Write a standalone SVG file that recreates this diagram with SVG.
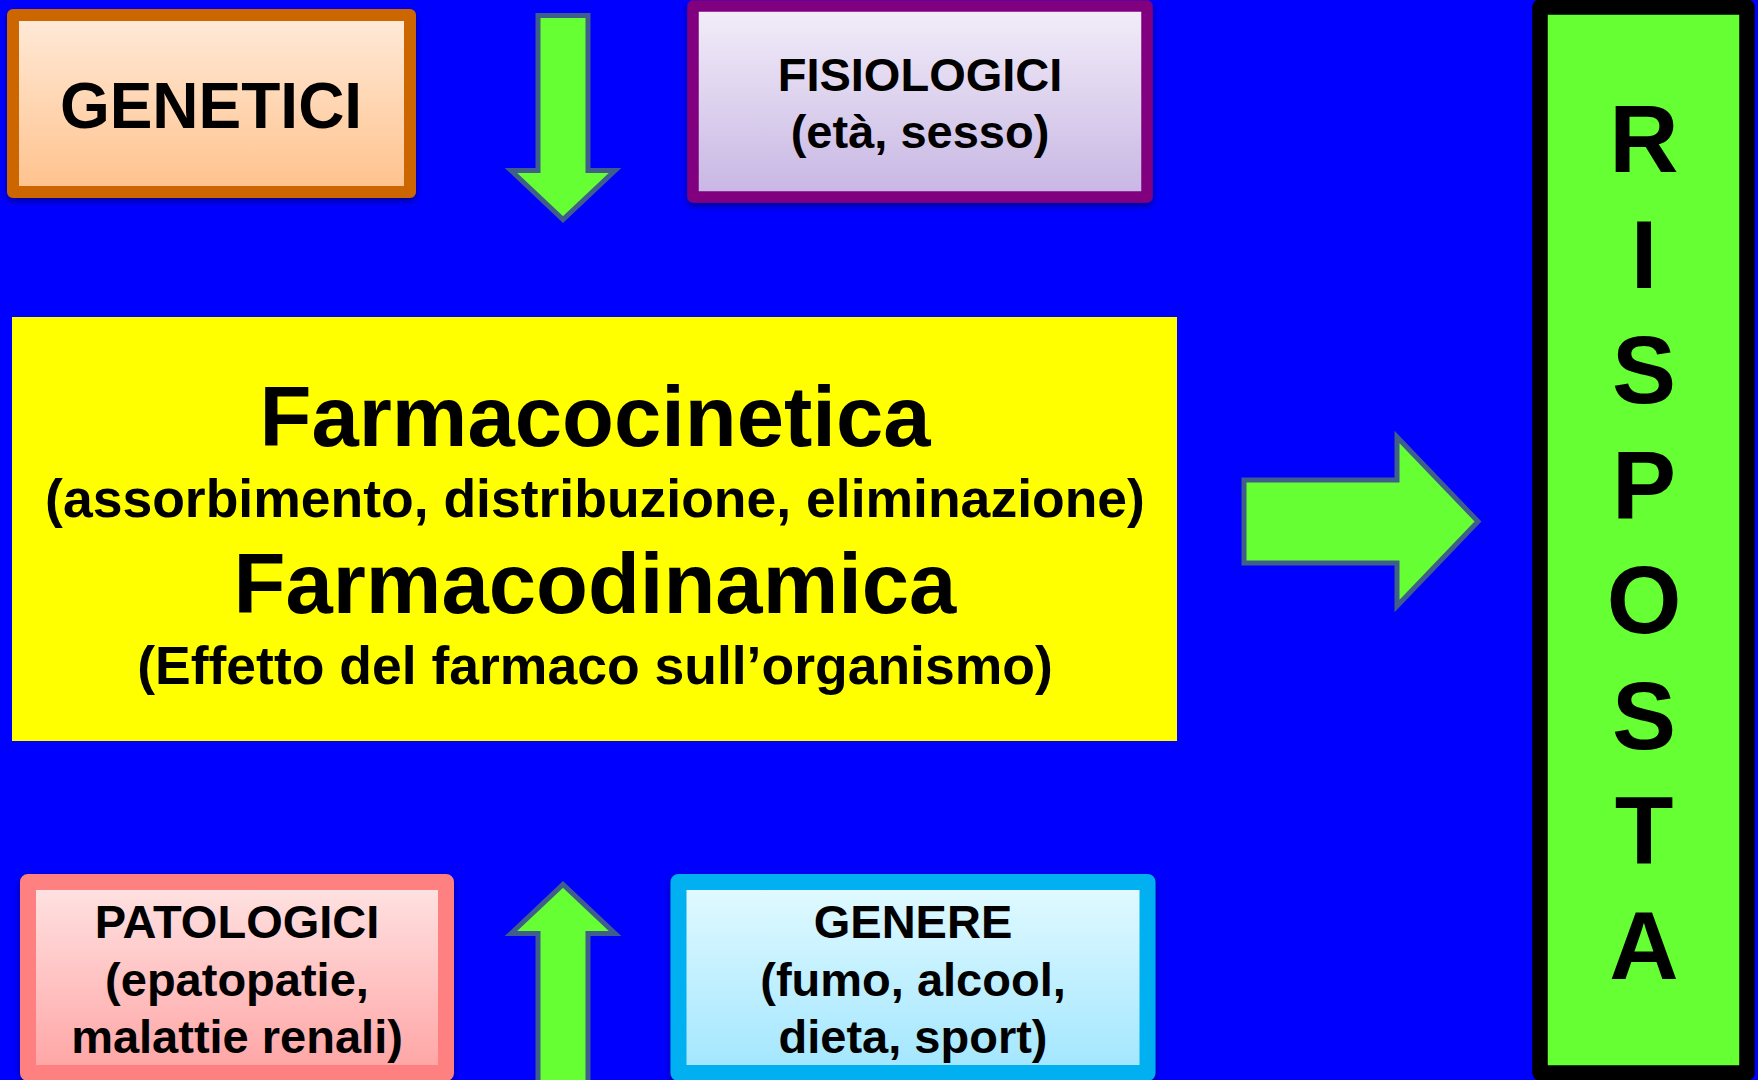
<svg xmlns="http://www.w3.org/2000/svg" width="1758" height="1080" viewBox="0 0 1758 1080">
  <defs>
    <linearGradient id="gOrange" x1="0" y1="0" x2="0" y2="1">
      <stop offset="0" stop-color="#FFEAD9"/>
      <stop offset="1" stop-color="#FFC28C"/>
    </linearGradient>
    <linearGradient id="gPurple" x1="0" y1="0" x2="0" y2="1">
      <stop offset="0" stop-color="#F3EEF9"/>
      <stop offset="1" stop-color="#C7B6E3"/>
    </linearGradient>
    <linearGradient id="gPink" x1="0" y1="0" x2="0" y2="1">
      <stop offset="0" stop-color="#FFE3E3"/>
      <stop offset="1" stop-color="#FFA4A4"/>
    </linearGradient>
    <linearGradient id="gCyan" x1="0" y1="0" x2="0" y2="1">
      <stop offset="0" stop-color="#E2FAFF"/>
      <stop offset="1" stop-color="#A2E6FF"/>
    </linearGradient>
    <filter id="shadow" x="-10%" y="-10%" width="120%" height="130%">
      <feDropShadow dx="0" dy="3" stdDeviation="3" flood-color="#000" flood-opacity="0.45"/>
    </filter>
  </defs>
  <style>
    text { font-family: "Liberation Sans", Arial, sans-serif; font-weight: bold; fill: #000; text-anchor: middle; }
    .box { stroke-linejoin: round; filter: url(#shadow); }
    .arrow { fill: #66FF33; stroke: #3F5F8A; stroke-width: 5; stroke-linejoin: miter; }
    .small { font-size: 47px; }
    .big { font-size: 85px; }
    .mid { font-size: 53.5px; }
    .vert { font-size: 96px; }
  </style>

  <rect x="0" y="0" width="1758" height="1080" fill="#0000FF"/>

  <g id="connectors">
    <polygon class="arrow" points="538,15.5 588,15.5 588,170.5 615,170.5 563,219.5 511,170.5 538,170.5"/>
    <polygon class="arrow" points="538,1090 588,1090 588,933.5 615,933.5 563,884.5 511,933.5 538,933.5"/>
    <polygon class="arrow" points="1244,480 1397,480 1397,437 1478,521.5 1397,606 1397,563 1244,563"/>
  </g>

  <g id="genetici">
    <rect class="box" x="13" y="15" width="397" height="177" fill="url(#gOrange)" stroke="#CC6600" stroke-width="12"/>
    <text x="211" y="128" style="font-size:64px">GENETICI</text>
  </g>

  <g id="fisiologici">
    <rect class="box" x="693" y="6" width="454" height="191" fill="url(#gPurple)" stroke="#800080" stroke-width="11.5"/>
    <text class="small" x="920" y="91">FISIOLOGICI</text>
    <text class="small" x="920" y="148">(età, sesso)</text>
  </g>

  <g id="farmaco">
    <rect x="12" y="317" width="1165" height="424" fill="#FFFF00"/>
    <text class="big" x="595" y="446">Farmacocinetica</text>
    <text class="mid" x="595" y="517">(assorbimento, distribuzione, eliminazione)</text>
    <text class="big" x="595" y="613">Farmacodinamica</text>
    <text class="mid" x="595" y="684">(Effetto del farmaco sull’organismo)</text>
  </g>

  <g id="patologici">
    <rect class="box" x="28" y="882" width="418" height="191" fill="url(#gPink)" stroke="#FF8080" stroke-width="16"/>
    <text class="small" x="237" y="938">PATOLOGICI</text>
    <text class="small" x="237" y="996">(epatopatie,</text>
    <text class="small" x="237" y="1053">malattie renali)</text>
  </g>

  <g id="genere">
    <rect class="box" x="678.5" y="882" width="469" height="191" fill="url(#gCyan)" stroke="#00B0F0" stroke-width="16"/>
    <text class="small" x="913" y="938">GENERE</text>
    <text class="small" x="913" y="996">(fumo, alcool,</text>
    <text class="small" x="913" y="1053">dieta, sport)</text>
  </g>

  <g id="risposta">
    <rect x="1540" y="7" width="207" height="1066" fill="#66FF33" stroke="#000" stroke-width="15.5" stroke-linejoin="round"/>
    <text class="vert" x="1644" y="172">R</text>
    <text class="vert" x="1644" y="288">I</text>
    <text class="vert" x="1644" y="403">S</text>
    <text class="vert" x="1644" y="518">P</text>
    <text class="vert" x="1644" y="633">O</text>
    <text class="vert" x="1644" y="749">S</text>
    <text class="vert" x="1644" y="864">T</text>
    <text class="vert" x="1644" y="979">A</text>
  </g>
</svg>
